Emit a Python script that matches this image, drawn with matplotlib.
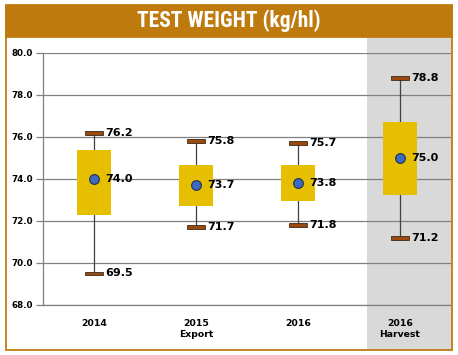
import matplotlib.pyplot as plt
from matplotlib.patches import Rectangle
from matplotlib.transforms import blended_transform_factory
from matplotlib import font_manager

# data
categories = ["2014", "2015\nExport", "2016", "2016\nHarvest"]
maxVals = [76.2, 75.8, 75.7, 78.8]
minVals = [69.5, 71.7, 71.8, 71.2]
meanVals = [74.0, 73.7, 73.8, 75.0]
boxTop = [75.4, 74.65, 74.65, 76.7]
boxBottom = [72.3, 72.7, 72.95, 73.25]
yTicks = [68.0, 70.0, 72.0, 74.0, 76.0, 78.0, 80.0]

# pick a narrow font for the title if there is one
names = {f.name for f in font_manager.fontManager.ttflist}
titleFamily = "DejaVu Sans"
for cand in ["Liberation Sans Narrow", "DejaVu Sans Condensed", "Roboto Condensed", "Open Sans Condensed"]:
    if cand in names:
        titleFamily = cand
        break

orange = "#BF7A0E"
W, H = 458, 355
fig = plt.figure(figsize=(W/100, H/100), dpi=100)
ax = fig.add_axes([43/W, 50/H, 408/W, 252/H])

# outer frame and title band
fig.patches.append(Rectangle((6/W, 5/H), 446/W, 344/H, transform=fig.transFigure,
                             fill=False, edgecolor=orange, linewidth=1.3))
fig.patches.append(Rectangle((6/W, (H-37)/H), 446/W, 32/H, transform=fig.transFigure,
                             facecolor=orange, edgecolor=orange, linewidth=1.3))
fig.text(229/W, (H-21)/H, "TEST WEIGHT (kg/hl)", color="white",
         fontsize=15.5 if titleFamily != "DejaVu Sans" else 12.5,
         fontweight="bold", ha="center", va="center", family=titleFamily,
         fontstretch="condensed")

# grey band behind the harvest column
trans = blended_transform_factory(ax.transData, fig.transFigure)
ax.add_patch(Rectangle((2.68, 6/H), 3.5-2.68, (H-37-6)/H, transform=trans,
                       facecolor="#D9D9D9", edgecolor="none", clip_on=False, zorder=0))

ax.set_xlim(-0.5, 3.5)
ax.set_ylim(68, 80)
ax.set_yticks(yTicks)
ax.set_yticklabels([f"{v:.1f}" for v in yTicks], fontsize=6.3, fontweight="bold")
ax.set_xticks(range(len(categories)))
ax.set_xticklabels(categories, fontsize=6.7, fontweight="bold", linespacing=1.3)
ax.tick_params(axis="x", length=0, pad=10)
ax.tick_params(axis="y", length=5, color="#808080", width=0.9, pad=2)
ax.grid(axis="y", color="#808080", linewidth=0.9, zorder=1)
ax.set_axisbelow(True)
ax.patch.set_alpha(0)
for s in ["top", "right"]:
    ax.spines[s].set_visible(False)
for s in ["left", "bottom"]:
    ax.spines[s].set_color("#808080")
    ax.spines[s].set_linewidth(0.9)

for i in range(len(categories)):
    # whisker
    ax.plot([i, i], [minVals[i], maxVals[i]], color="#404040", linewidth=0.9, zorder=2)
    # box
    ax.add_patch(Rectangle((i-0.165, boxBottom[i]), 0.33, boxTop[i]-boxBottom[i],
                           facecolor="#E6C000", edgecolor="none", zorder=3))
    # caps
    for v in (maxVals[i], minVals[i]):
        ax.add_patch(Rectangle((i-0.085, v-0.09), 0.17, 0.18, facecolor="#9A4A0C",
                               edgecolor="#3a2a1a", linewidth=0.6, zorder=4))
        ax.text(i+0.115, v, f"{v:.1f}", fontsize=8, fontweight="bold", va="center",
                ha="left", zorder=5)
    # mean
    ax.plot(i, meanVals[i], "o", markersize=7, markerfacecolor="#3C6AC0",
            markeredgecolor="#1F2F4F", markeredgewidth=0.8, zorder=5)
    ax.text(i+0.115, meanVals[i], f"{meanVals[i]:.1f}", fontsize=8, fontweight="bold",
            va="center", ha="left", zorder=5)

fig.savefig("out.png", dpi=100)
